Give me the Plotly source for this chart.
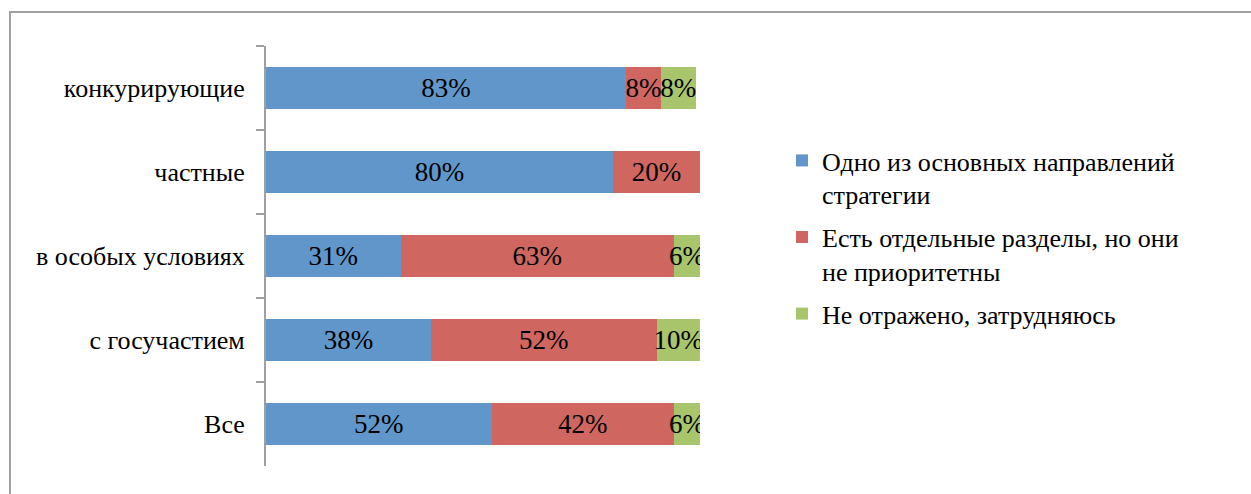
import plotly.graph_objects as go

categories = ["конкурирующие", "частные", "в особых условиях", "с госучастием", "Все"]
series_names = [
    "Одно из основных направлений<br>стратегии",
    "Есть отдельные разделы, но они<br>не приоритетны",
    "Не отражено, затрудняюсь",
]
main_dir = [83, 80, 31, 38, 52]
separate = [8, 20, 63, 52, 42]
not_refl = [8, 0, 6, 10, 6]
colors = ["#6096C9", "#CF6660", "#A8C56B"]

W, H = 1251, 494
FONT = "Liberation Serif"

fig = go.Figure()
for i, (name, vals, col) in enumerate(zip(series_names, [main_dir, separate, not_refl], colors)):
    fig.add_trace(go.Bar(
        y=categories, x=vals, name=name, orientation="h",
        legendgroup=f"g{i}",
        marker=dict(color=col, line=dict(width=0)),
        text=[f"{v}%" if v > 0 else "" for v in vals],
        textposition="inside", insidetextanchor="middle",
        constraintext="none", textangle=0,
        textfont=dict(family=FONT, size=27, color="black"),
        hoverinfo="skip",
    ))

fig.update_layout(
    width=W, height=H,
    barmode="stack", bargap=0.5,
    margin=dict(l=0, r=0, t=0, b=0),
    paper_bgcolor="white", plot_bgcolor="white",
    font=dict(family=FONT, color="black"),
    showlegend=True,
    legend=dict(
        x=782 / W, y=1 - 137 / H, xanchor="left", yanchor="top",
        font=dict(family=FONT, size=26, color="black"),
        valign="top", traceorder="grouped", tracegroupgap=6,
        bgcolor="rgba(0,0,0,0)",
    ),
    xaxis=dict(
        domain=[266 / W, 700 / W], range=[0, 100],
        showticklabels=False, showgrid=False, zeroline=False, showline=False,
    ),
    yaxis=dict(
        domain=[(H - 466) / H, (H - 46) / H],
        range=[4.5, -0.5], type="category",
        showline=True, linecolor="#A0A0A0", linewidth=2,
        ticks="outside", tickson="boundaries", ticklen=8, tickcolor="#A0A0A0", tickwidth=2,
        tickfont=dict(family=FONT, size=26, color="black"),
        ticklabelstandoff=14,
        showgrid=False, zeroline=False,
    ),
    shapes=[dict(
        type="rect", xref="paper", yref="paper",
        x0=10 / W, x1=1.02, y0=-0.02, y1=1 - 12 / H,
        line=dict(color="#A0A0A0", width=2), fillcolor="rgba(0,0,0,0)", layer="below",
    )],
)

fig.write_html("out.html", config={"displayModeBar": False},
               post_script="document.body.style.margin='0';document.body.style.overflow='hidden';")
